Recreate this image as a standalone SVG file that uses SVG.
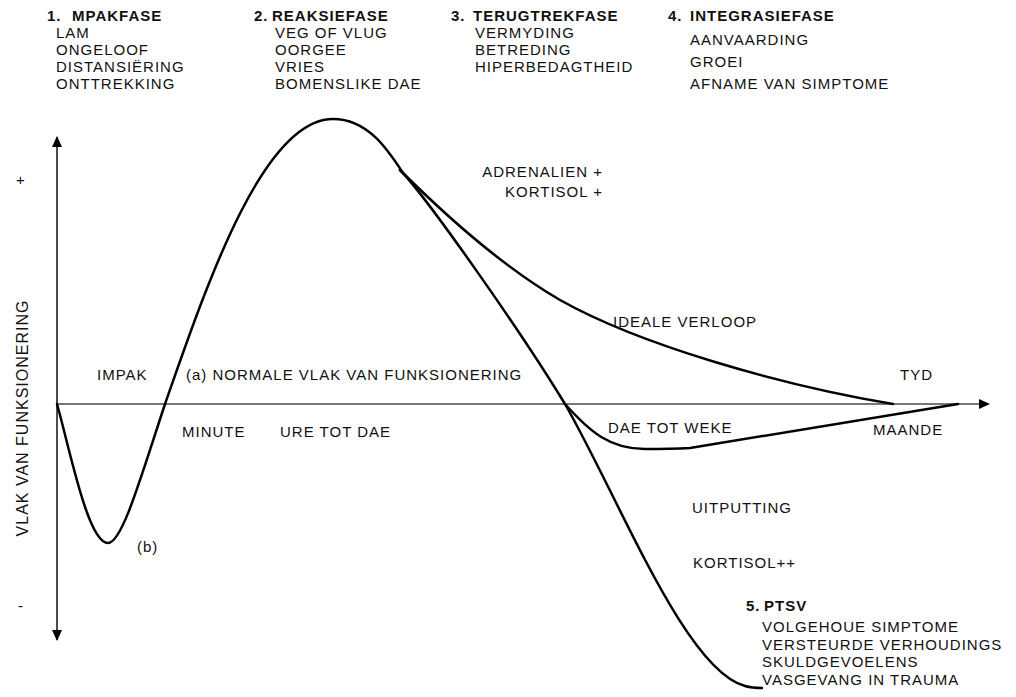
<svg xmlns="http://www.w3.org/2000/svg" width="1016" height="697" viewBox="0 0 1016 697">
<style>
text{font-family:"Liberation Sans",Arial,sans-serif;font-size:15px;fill:#111;letter-spacing:1px}
.b{font-weight:bold}
.v{font-size:16px}
.ax{stroke:#111;stroke-width:1.5;fill:none}
.hx{stroke:#777;stroke-width:2;fill:none}
.c{stroke:#000;stroke-width:2.5;fill:none;stroke-linejoin:round;stroke-linecap:round}
</style>
<defs>
<marker id="ah" markerWidth="11" markerHeight="10" refX="10" refY="5" orient="auto-start-reverse" markerUnits="userSpaceOnUse">
<path d="M0,0 L11,5 L0,10 Z" fill="#000"/>
</marker>
</defs>
<rect width="1016" height="697" fill="#fff"/>
<g id="axes">
<line class="ax" x1="57" y1="137" x2="57" y2="640" marker-start="url(#ah)" marker-end="url(#ah)"/>
<line class="hx" x1="57" y1="404" x2="981" y2="404"/>
<path d="M979,399 L990,404 L979,409 Z" fill="#000"/>
<text x="21" y="185" text-anchor="middle">+</text>
<text x="21" y="611" text-anchor="middle">-</text>
<text class="v" transform="translate(28,418) rotate(-90)" text-anchor="middle">VLAK VAN FUNKSIONERING</text>
</g>
<g id="connectors">
<path class="c" d="M57,404 C70,450 88,543 108,543 C122,543 140,480 165,404 C205,290 262,119 333,119 C368,119 388,150 403,173"/>
<path class="c" d="M400,170 C440,210 500,265 560,300 C640,345 780,385 893,404"/>
<path class="c" d="M400,170 C425,195 520,330 565,404 C620,500 685,670 745,686 C752,688 755,688 762,688"/>
<path class="c" d="M565,404 C590,432 610,449 645,449 C660,449 672,449 690,448 L958,404"/>
</g>
<g id="phase1">
<text class="b" x="47" y="21">1.</text>
<text class="b" x="72" y="21">MPAKFASE</text>
<text x="56" y="38">LAM</text>
<text x="56" y="55">ONGELOOF</text>
<text x="56" y="72">DISTANSIËRING</text>
<text x="56" y="89">ONTTREKKING</text>
</g>
<g id="phase2">
<text class="b" x="254" y="21">2.</text>
<text class="b" x="272" y="21">REAKSIEFASE</text>
<text x="275" y="38">VEG OF VLUG</text>
<text x="275" y="55">OORGEE</text>
<text x="275" y="72">VRIES</text>
<text x="275" y="89">BOMENSLIKE DAE</text>
</g>
<g id="phase3">
<text class="b" x="451" y="21">3.</text>
<text class="b" x="473" y="21">TERUGTREKFASE</text>
<text x="475" y="38">VERMYDING</text>
<text x="475" y="55">BETREDING</text>
<text x="475" y="72">HIPERBEDAGTHEID</text>
</g>
<g id="phase4">
<text class="b" x="668" y="21">4.</text>
<text class="b" x="690" y="21">INTEGRASIEFASE</text>
<text x="690" y="45">AANVAARDING</text>
<text x="690" y="67">GROEI</text>
<text x="690" y="89">AFNAME VAN SIMPTOME</text>
</g>
<g id="phase5">
<text class="b" x="746" y="611">5.</text>
<text class="b" x="764" y="611">PTSV</text>
<text x="762" y="632">VOLGEHOUE SIMPTOME</text>
<text x="762" y="650">VERSTEURDE VERHOUDINGS</text>
<text x="762" y="667">SKULDGEVOELENS</text>
<text x="762" y="685">VASGEVANG IN TRAUMA</text>
</g>
<g id="labels">
<text x="97" y="380">IMPAK</text>
<text x="186" y="380">(a) NORMALE VLAK VAN FUNKSIONERING</text>
<text x="182" y="437">MINUTE</text>
<text x="280" y="437">URE TOT DAE</text>
<text x="137" y="552">(b)</text>
<text x="603" y="177" text-anchor="end">ADRENALIEN +</text>
<text x="603" y="197" text-anchor="end">KORTISOL +</text>
<text x="613" y="327">IDEALE VERLOOP</text>
<text x="900" y="380">TYD</text>
<text x="608" y="433">DAE TOT WEKE</text>
<text x="873" y="435">MAANDE</text>
<text x="692" y="513">UITPUTTING</text>
<text x="693" y="568">KORTISOL++</text>
</g>
</svg>
